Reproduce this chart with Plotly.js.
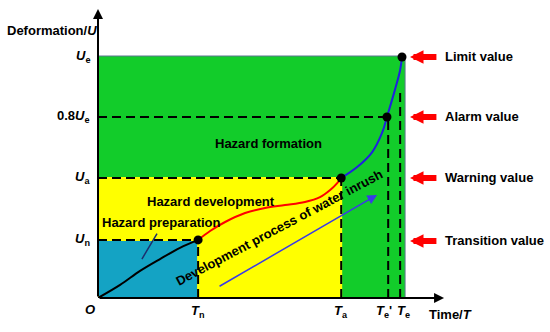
<!DOCTYPE html>
<html>
<head>
<meta charset="utf-8">
<script src="https://cdn.plot.ly/plotly-3.0.1.min.js"></script>
<style>
  html, body { margin: 0; padding: 0; background: #fff; }
  #grafico { width: 550px; height: 332px; }
</style>
</head>
<body>
<div id="grafico"></div>
<script>
/* ===== níveis e tempos característicos (unidades normalizadas) ===== */
const niveisY = [0.24, 0.496, 0.748, 1.0];
const rotulosY = [
  "<b><i>U</i><sub>n</sub></b>",
  "<b><i>U</i><sub>a</sub></b>",
  "<b>0.8<i>U</i><sub>e</sub></b>",
  "<b><i>U</i><sub>e</sub></b>",
];
const temposX = [0.326, 0.792, 0.945, 0.984];
const rotulosX = [
  "<b><i>T</i><sub>n</sub></b>",
  "<b><i>T</i><sub>a</sub></b>",
  "<b><i>T</i><sub>e</sub>'</b>",
  "<b><i>T</i><sub>e</sub></b>",
];
const limiteX = 1.0; // borda direita da zona verde
const limiteTe = 0.85; // topo da tracejada em Te

// curva de deformação em três trechos
const pretoX = [0, 0.072, 0.137, 0.202, 0.267, 0.326];
const pretoY = [0, 0.054, 0.112, 0.161, 0.207, 0.24];
const vermelhoX = [0.326, 0.365, 0.414, 0.479, 0.544, 0.609, 0.674, 0.723, 0.756, 0.779, 0.792];
const vermelhoY = [0.24, 0.277, 0.314, 0.351, 0.372, 0.384, 0.397, 0.417, 0.446, 0.475, 0.496];
const azulX = [0.792, 0.844, 0.893, 0.925, 0.941, 0.967, 0.984, 0.99];
const azulY = [0.496, 0.541, 0.603, 0.682, 0.748, 0.86, 0.942, 0.996];

// pontos marcados
const pontosX = [0.326, 0.792, 0.941, 0.99];
const pontosY = [0.24, 0.496, 0.748, 0.996];

// rótulos à direita
const valoresDireita = ["Limit value", "Alarm value", "Warning value", "Transition value"];
const niveisDireita = [0.996, 0.748, 0.496, 0.236];

const fonteBase = "Arial, 'Liberation Sans', sans-serif";

/* ===== formas (zonas e tracejados) ===== */
const tracejado = { color: "#000", width: 2, dash: "9px,5px" };
const [Un, Ua, U08, Ue] = niveisY;
const [Tn, Ta, Te1, Te] = temposX;

const formas = [
  { type: "rect", layer: "below", x0: 0, x1: limiteX, y0: 0, y1: Ue,
    fillcolor: "#12cc2a", line: { color: "#5d7590", width: 1 } },
  { type: "rect", layer: "below", x0: 0, x1: Ta, y0: 0, y1: Ua,
    fillcolor: "#ffff00", line: { color: "#ffff00", width: 2 } },
  { type: "rect", layer: "below", x0: 0, x1: Tn, y0: 0, y1: Un,
    fillcolor: "#14a3c4", line: { color: "#ffff00", width: 2 } },
  { type: "line", layer: "below", x0: 0, x1: Tn, y0: Un, y1: Un, line: tracejado },
  { type: "line", layer: "below", x0: Tn, x1: Tn, y0: 0, y1: Un, line: tracejado },
  { type: "line", layer: "below", x0: 0, x1: Ta, y0: Ua, y1: Ua, line: tracejado },
  { type: "line", layer: "below", x0: Ta, x1: Ta, y0: 0, y1: Ua, line: tracejado },
  { type: "line", layer: "below", x0: 0, x1: pontosX[2], y0: U08, y1: U08, line: tracejado },
  { type: "line", layer: "below", x0: Te1, x1: Te1, y0: 0, y1: U08, line: tracejado },
  { type: "line", layer: "below", x0: Te, x1: Te, y0: 0, y1: limiteTe, line: tracejado },
];

/* ===== anotações ===== */
const txt = (s) => ({ family: fonteBase, size: 13, color: "#000" });
const anotacoes = [];

// eixos com seta
anotacoes.push({ x: 0, y: 1.194, ax: 0, ay: 0, axref: "x", ayref: "y", text: "",
  showarrow: true, arrowhead: 2, arrowsize: 1, arrowwidth: 2, arrowcolor: "#000" });
anotacoes.push({ x: 1.127, y: 0, ax: 0, ay: 0, axref: "x", ayref: "y", text: "",
  showarrow: true, arrowhead: 2, arrowsize: 1, arrowwidth: 2, arrowcolor: "#000" });

niveisY.forEach((v, i) => {
  anotacoes.push({ x: 0, y: v, text: rotulosY[i], showarrow: false,
    xanchor: "right", xshift: -6, font: txt() });
});
const deslocX = [0, 0, -4, 3];
temposX.forEach((v, i) => {
  anotacoes.push({ x: v, y: 0, text: rotulosX[i], showarrow: false,
    yanchor: "top", yshift: -3, xshift: deslocX[i], font: txt() });
});
anotacoes.push({ x: 0, y: 0, text: "<b><i>O</i></b>", showarrow: false,
  xanchor: "right", yanchor: "top", xshift: -1, yshift: -2, font: txt() });
anotacoes.push({ x: 0, y: 1.107, text: "<b>Deformation/<i>U</i></b>", showarrow: false,
  xshift: -46, font: txt() });
anotacoes.push({ x: 1.147, y: 0, text: "<b>Time/<i>T</i></b>", showarrow: false,
  yshift: -16, font: txt() });

// textos das zonas
anotacoes.push({ x: 0.554, y: 0.64, text: "<b>Hazard formation</b>", showarrow: false, font: txt() });
anotacoes.push({ x: 0.368, y: 0.397, text: "<b>Hazard development</b>", showarrow: false, font: txt() });
anotacoes.push({ x: 0.208, y: 0.31, text: "<b>Hazard preparation</b>", showarrow: false, font: txt() });
anotacoes.push({ x: 0.143, y: 0.161, ax: 16, ay: -27, text: "", showarrow: true,
  arrowhead: 0, arrowwidth: 1.5, arrowcolor: "#1c2f6e" });
anotacoes.push({ x: 0.59, y: 0.293, text: "<b>Development process of water inrush</b>",
  showarrow: false, textangle: -28, font: txt() });
anotacoes.push({ x: 0.909, y: 0.426, ax: 0.391, ay: 0.045, axref: "x", ayref: "y", text: "",
  showarrow: true, arrowhead: 2, arrowsize: 1.3, arrowwidth: 1.5, arrowcolor: "#3a3ae8" });

// setas vermelhas e rótulos à direita
valoresDireita.forEach((r, i) => {
  anotacoes.push({ x: 1.016, y: niveisDireita[i], ax: 1.107, ay: niveisDireita[i],
    axref: "x", ayref: "y", text: "", showarrow: true,
    arrowhead: 2, arrowsize: 0.45, arrowwidth: 6, arrowcolor: "#ff0000" });
  anotacoes.push({ x: 1.122, y: niveisDireita[i], text: "<b>" + r + "</b>",
    showarrow: false, xanchor: "left", font: txt() });
});

/* ===== traços ===== */
const dados = [
  { x: pretoX, y: pretoY, mode: "lines", line: { color: "#000", width: 2, shape: "spline" } },
  { x: vermelhoX, y: vermelhoY, mode: "lines", line: { color: "#ff0000", width: 2, shape: "spline" } },
  { x: azulX, y: azulY, mode: "lines", line: { color: "#2020e0", width: 2, shape: "spline" } },
  { x: pontosX, y: pontosY, mode: "markers", marker: { color: "#000", size: 9 } },
];

Plotly.newPlot(
  "grafico",
  dados,
  {
    width: 550,
    height: 332,
    margin: { l: 98, r: 0, t: 0, b: 34 },
    showlegend: false,
    paper_bgcolor: "#fff",
    plot_bgcolor: "#fff",
    xaxis: { range: [0, 1.472], visible: false, fixedrange: true },
    yaxis: { range: [0, 1.2314], visible: false, fixedrange: true },
    shapes: formas,
    annotations: anotacoes,
  },
  { displayModeBar: false, staticPlot: true },
);
</script>
</body>
</html>
